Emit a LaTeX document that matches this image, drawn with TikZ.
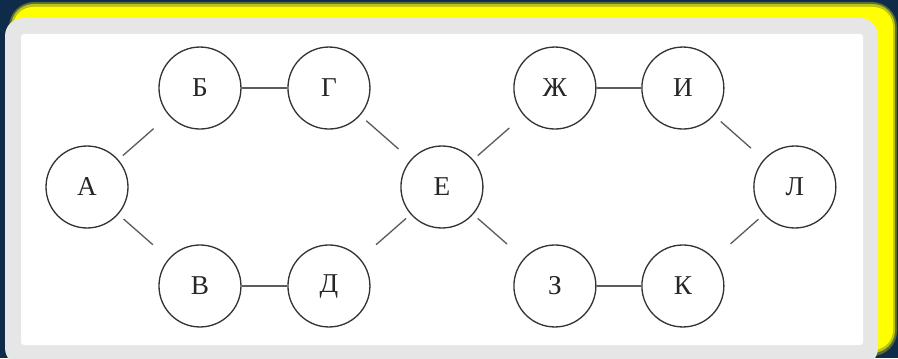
\documentclass[tikz,border=0pt]{standalone}
\usepackage{fontspec}
\setmainfont{Liberation Serif}
\usetikzlibrary{positioning}

\definecolor{navy}{HTML}{0F2B4A}
\definecolor{glow}{HTML}{FFFF00}
\definecolor{panel}{HTML}{E6E6E6}
\definecolor{ink}{HTML}{333333}

\tikzset{
  vertex/.style={draw=ink, circle, line width=0.75pt, minimum size=1.64cm,
                 inner sep=0pt, text=black!85, font=\fontsize{15.5}{18}\selectfont},
  link/.style={draw=ink!80, line width=0.75pt}
}

\begin{document}
\begin{tikzpicture}[x=0.02cm, y=-0.02cm, node distance=1.98cm and 2.26cm, on grid]
% background and panel
\useasboundingbox (0,0) rectangle (898,358);
\fill[navy] (0,0) rectangle (898,358);
\fill[glow, opacity=.3, rounded corners=0.5cm] (9,2) rectangle (897,356);
\fill[glow, opacity=.6, rounded corners=0.45cm] (11,4) rectangle (895,353);
\fill[glow, rounded corners=0.4cm] (13,7) rectangle (893,350);
\fill[panel, rounded corners=0.36cm] (5,18) rectangle (878,366);
\fill[white, rounded corners=0.06cm] (21,34) rectangle (863,345);

\node[vertex] (A) at (87,187) {А};
\node[vertex] (B) [above right=of A] {Б};
\node[vertex] (V) [below right=of A] {В};
\node[vertex] (G) [right=2.58cm of B] {Г};
\node[vertex] (D) [right=2.58cm of V] {Д};
\node[vertex] (E) [below right=of G] {Е};
\node[vertex] (Zh) [above right=of E] {Ж};
\node[vertex] (Z) [below right=of E] {З};
\node[vertex] (I) [right=2.56cm of Zh] {И};
\node[vertex] (K) [right=2.56cm of Z] {К};
\node[vertex] (L) [below right=1.98cm and 2.24cm of I] {Л};

\draw[link] (B) -- (G);
\draw[link] (V) -- (D);
\draw[link] (Zh) -- (I);
\draw[link] (Z) -- (K);
\draw[link, shorten <=0.12cm, shorten >=0.4cm] (A) -- (B);
\draw[link, shorten <=0.14cm, shorten >=0.42cm] (A) -- (V);
\draw[link, shorten <=0.16cm, shorten >=0.32cm] (G) -- (E);
\draw[link, shorten <=0.12cm, shorten >=0.42cm] (E) -- (D);
\draw[link, shorten <=0.12cm, shorten >=0.38cm] (E) -- (Zh);
\draw[link, shorten <=0.12cm, shorten >=0.44cm] (E) -- (Z);
\draw[link, shorten <=0.18cm, shorten >=0.34cm] (I) -- (L);
\draw[link, shorten <=0.14cm, shorten >=0.44cm] (L) -- (K);
\end{tikzpicture}
\end{document}
